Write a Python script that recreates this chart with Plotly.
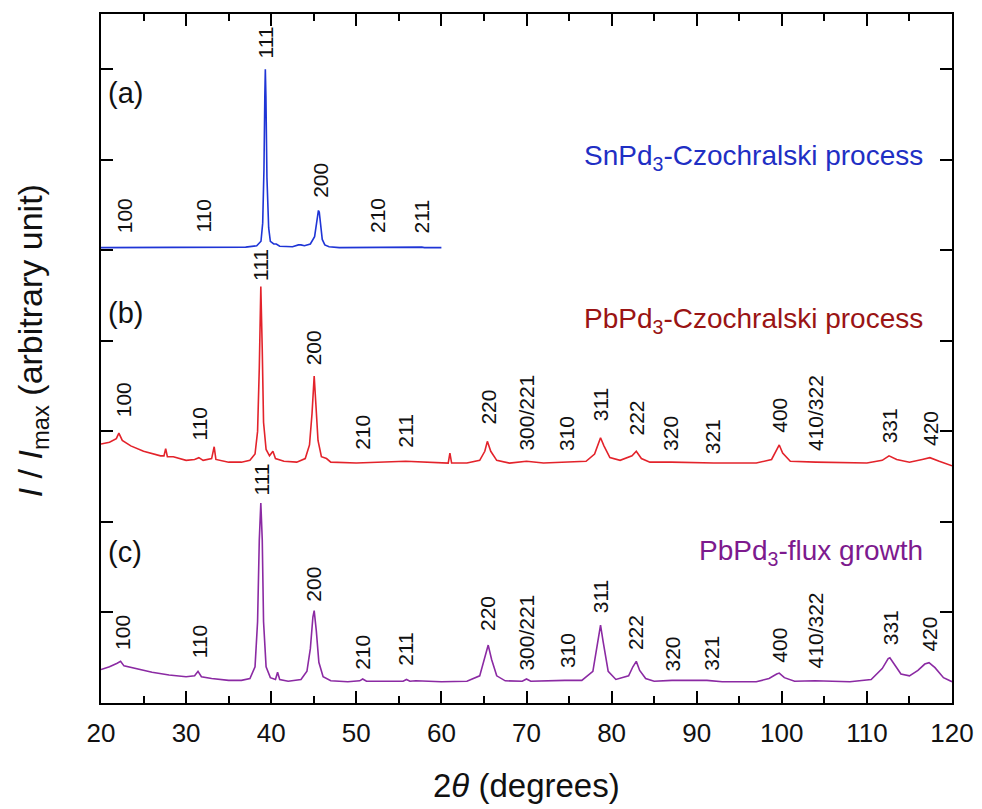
import plotly.graph_objects as go

# ---------------- data ----------------
# (a) SnPd3 - Czochralski (offset baseline ~5)
a_x = [20, 25, 30, 35, 37, 38.3, 38.8, 39.0, 39.15, 39.25, 39.31, 39.38, 39.5, 39.7, 39.9, 40.3, 40.6, 41.0,
       42.5, 43.2, 43.5, 43.9, 44.6, 45.1, 45.35, 45.55, 45.65, 45.8, 46.0, 46.3, 46.8, 48, 52.5, 53, 55, 57.7, 58, 60]
a_y = [5.03, 5.03, 5.03, 5.03, 5.035, 5.05, 5.1, 5.3, 5.9, 6.7, 7.0, 6.7, 5.8, 5.25, 5.1, 5.07, 5.07, 5.045,
       5.04, 5.06, 5.06, 5.05, 5.07, 5.15, 5.3, 5.44, 5.42, 5.25, 5.12, 5.06, 5.04, 5.03, 5.035, 5.03, 5.03, 5.035, 5.03, 5.03]

# (b) PbPd3 - Czochralski (offset baseline ~2.65)
b_x = [20, 21, 21.8, 22.1, 22.5, 23.5, 25, 27, 27.4, 27.6, 27.8, 28.5, 30, 31, 31.5, 32, 33.0, 33.3, 33.5, 35,
       36.5, 37.5, 38.1, 38.4, 38.6, 38.78, 38.95, 39.1, 39.4, 39.8, 40.2, 40.5, 41.5, 43, 44, 44.5, 44.8, 45.05,
       45.25, 45.5, 45.9, 46.5, 47, 50, 55.8, 60.8, 61.0, 61.2, 63, 64.5, 65.1, 65.4, 65.8, 66.5, 68, 70, 72, 74.7,
       77, 78.0, 78.5, 78.7, 79.1, 79.8, 81, 82.4, 82.9, 83.5, 84.5, 87, 92, 97, 98.8, 99.4, 99.7, 100.1, 101, 104,
       110, 111.8, 112.6, 113.5, 115, 116.5, 117.4, 118.5, 120]
b_y = [2.86, 2.88, 2.92, 2.98, 2.9, 2.84, 2.78, 2.73, 2.73, 2.81, 2.72, 2.72, 2.68, 2.69, 2.71, 2.68, 2.7, 2.83, 2.69, 2.66,
       2.66, 2.68, 2.75, 3.0, 3.7, 4.6, 3.9, 3.1, 2.8, 2.73, 2.78, 2.7, 2.67, 2.66, 2.7, 2.85, 3.2, 3.61,
       3.3, 2.9, 2.72, 2.7, 2.66, 2.65, 2.67, 2.65, 2.76, 2.65, 2.65, 2.68, 2.78, 2.89, 2.78, 2.68, 2.65, 2.67, 2.65, 2.66,
       2.67, 2.75, 2.88, 2.93, 2.84, 2.71, 2.68, 2.73, 2.78, 2.7, 2.66, 2.66, 2.65, 2.65, 2.69, 2.79, 2.85, 2.76, 2.67, 2.66,
       2.65, 2.68, 2.73, 2.69, 2.66, 2.69, 2.71, 2.67, 2.62]

# (c) PbPd3 - flux growth (offset baseline ~0.24)
c_x = [20, 21, 21.9, 22.3, 22.7, 24, 26, 28, 30, 31.0, 31.4, 31.8, 33, 35, 36.5, 37.5, 38.1, 38.4, 38.6, 38.78,
       38.95, 39.1, 39.4, 39.9, 40.5, 40.75, 41.0, 42, 43.5, 44.2, 44.6, 44.9, 45.05, 45.3, 45.6, 46.1, 47, 49, 50.4,
       50.75, 51.2, 55.5, 55.9, 56.3, 57, 60, 63, 64.5, 65.1, 65.5, 65.9, 66.5, 67.5, 69.5, 70, 70.5, 74.5, 76.5, 77.8,
       78.4, 78.7, 79.0, 79.6, 80.5, 82, 82.5, 82.9, 83.3, 84, 85, 87.1, 91.2, 93, 97, 98.5, 99.4, 99.7, 100.3, 101.5,
       103.9, 108, 110.5, 111.8, 112.5, 112.7, 113.2, 114, 115, 116, 116.8, 117.3, 118, 119, 120]
c_y = [0.37, 0.4, 0.44, 0.46, 0.41, 0.38, 0.34, 0.31, 0.29, 0.3, 0.35, 0.29, 0.27, 0.25, 0.25, 0.27, 0.4, 0.9, 1.8, 2.21,
       1.8, 0.9, 0.4, 0.28, 0.26, 0.34, 0.26, 0.24, 0.26, 0.35, 0.6, 0.95, 1.02, 0.8, 0.45, 0.29, 0.245, 0.235, 0.245,
       0.265, 0.24, 0.24, 0.26, 0.24, 0.245, 0.235, 0.24, 0.3, 0.5, 0.64, 0.48, 0.3, 0.245, 0.24, 0.265, 0.24, 0.25, 0.25, 0.35,
       0.7, 0.86, 0.68, 0.35, 0.26, 0.3, 0.4, 0.46, 0.36, 0.27, 0.24, 0.25, 0.25, 0.235, 0.235, 0.27, 0.32, 0.33, 0.28, 0.24,
       0.245, 0.235, 0.26, 0.38, 0.49, 0.5, 0.43, 0.32, 0.3, 0.36, 0.43, 0.445, 0.39, 0.28, 0.235]

# peak (hkl) labels: text, x position, y of label bottom
a_lab = ["100", "110", "111", "200", "210", "211"]
a_lab_x = [22.8, 32.0, 39.3, 45.7, 52.5, 57.6]
a_lab_y = [5.17, 5.17, 7.1, 5.56, 5.17, 5.17]

b_lab = ["100", "110", "111", "200", "210", "211", "220", "300/221", "310", "311", "222", "320", "321",
         "400", "410/322", "331", "420"]
b_lab_x = [22.6, 31.6, 38.8, 45.0, 50.8, 55.8, 65.5, 70.0, 74.7, 78.7, 82.9, 86.9, 91.8, 99.7, 103.9, 112.7, 117.4]
b_lab_y = [3.13, 2.88, 4.64, 3.71, 2.77, 2.80, 3.05, 2.76, 2.76, 3.09, 2.93, 2.76, 2.72, 2.96, 2.76, 2.85, 2.82]

c_lab = b_lab
c_lab_x = [22.6, 31.6, 38.8, 45.0, 50.8, 55.8, 65.5, 70.0, 74.9, 78.7, 82.9, 87.2, 91.7, 99.7, 103.9, 112.7, 117.4]
c_lab_y = [0.56, 0.475, 2.27, 1.10, 0.34, 0.39, 0.77, 0.33, 0.36, 0.97, 0.56, 0.33, 0.33, 0.42, 0.36, 0.62, 0.55]

panel_labels = ["(a)", "(b)", "(c)"]
panel_y = [6.74, 4.31, 1.67]
sample_names = ["SnPd<sub>3</sub>-Czochralski process", "PbPd<sub>3</sub>-Czochralski process",
                "PbPd<sub>3</sub>-flux growth"]
sample_y = [6.02, 4.23, 1.66]

x_ticks = [20, 30, 40, 50, 60, 70, 80, 90, 100, 110, 120]
y_ticks = [0, 1, 2, 3, 4, 5, 6, 7]

# ---------------- styling ----------------
FONT = "Arial, Liberation Sans, sans-serif"
line_cols = ["#1f35d6", "#e3232b", "#8b2aa3"]
text_cols = ["#1f2fc4", "#9a1414", "#7d1a8e"]

fig = go.Figure()
for xs, ys, col in [(a_x, a_y, line_cols[0]), (b_x, b_y, line_cols[1]), (c_x, c_y, line_cols[2])]:
    fig.add_trace(go.Scatter(x=xs, y=ys, mode="lines", line=dict(color=col, width=1.6),
                             showlegend=False, hoverinfo="skip"))

ann = []
for labs, lx, ly in [(a_lab, a_lab_x, a_lab_y), (b_lab, b_lab_x, b_lab_y), (c_lab, c_lab_x, c_lab_y)]:
    for t, xx, yy in zip(labs, lx, ly):
        ann.append(dict(x=xx, y=yy, xref="x", yref="y", text=t, showarrow=False, textangle=-90,
                        xanchor="center", yanchor="bottom", font=dict(family=FONT, size=21, color="#111111")))
for t, yy in zip(panel_labels, panel_y):
    ann.append(dict(x=20.6, y=yy, xref="x", yref="y", text=t, showarrow=False, xanchor="left",
                    yanchor="middle", font=dict(family=FONT, size=29, color="#111111")))
for t, yy, col in zip(sample_names, sample_y, text_cols):
    ann.append(dict(x=116.8, y=yy, xref="x", yref="y", text=t, showarrow=False, xanchor="right",
                    yanchor="middle", font=dict(family=FONT, size=28, color=col)))
# axis titles
ann.append(dict(x=-0.081, y=0.525, xref="paper", yref="paper", textangle=-90, showarrow=False,
                text="<i>I</i> / <i>I</i><sub>max</sub> (arbitrary unit)", xanchor="center", yanchor="middle",
                font=dict(family=FONT, size=34, color="#111111")))
ann.append(dict(x=0.5, y=-0.12, xref="paper", yref="paper", showarrow=False,
                text="2<i>θ</i> (degrees)", xanchor="center", yanchor="middle",
                font=dict(family=FONT, size=33, color="#111111")))

fig.update_layout(
    width=982, height=809,
    margin=dict(l=101, r=30, t=14, b=106, autoexpand=False),
    paper_bgcolor="white", plot_bgcolor="white",
    annotations=ann,
    font=dict(family=FONT, color="#111111"),
)
fig.update_xaxes(range=[20, 120], tickvals=x_ticks, ticks="inside", ticklen=12, tickwidth=1.5,
                 tickcolor="black", showline=True, linecolor="black", linewidth=2, mirror="ticks",
                 showgrid=False, zeroline=False, tickfont=dict(family=FONT, size=26, color="#111111"),
                 ticklabelstandoff=6, automargin=False,
                 minor=dict(dtick=5, tick0=20, ticks="inside", ticklen=7, tickwidth=1.5, tickcolor="black",
                            showgrid=False))
fig.update_yaxes(range=[0, 7.61], tickvals=y_ticks, showticklabels=False, ticks="inside", ticklen=12,
                 tickwidth=1.5, tickcolor="black", showline=True, linecolor="black", linewidth=2,
                 mirror="ticks", showgrid=False, zeroline=False, automargin=False)

fig.write_html("out.html")
